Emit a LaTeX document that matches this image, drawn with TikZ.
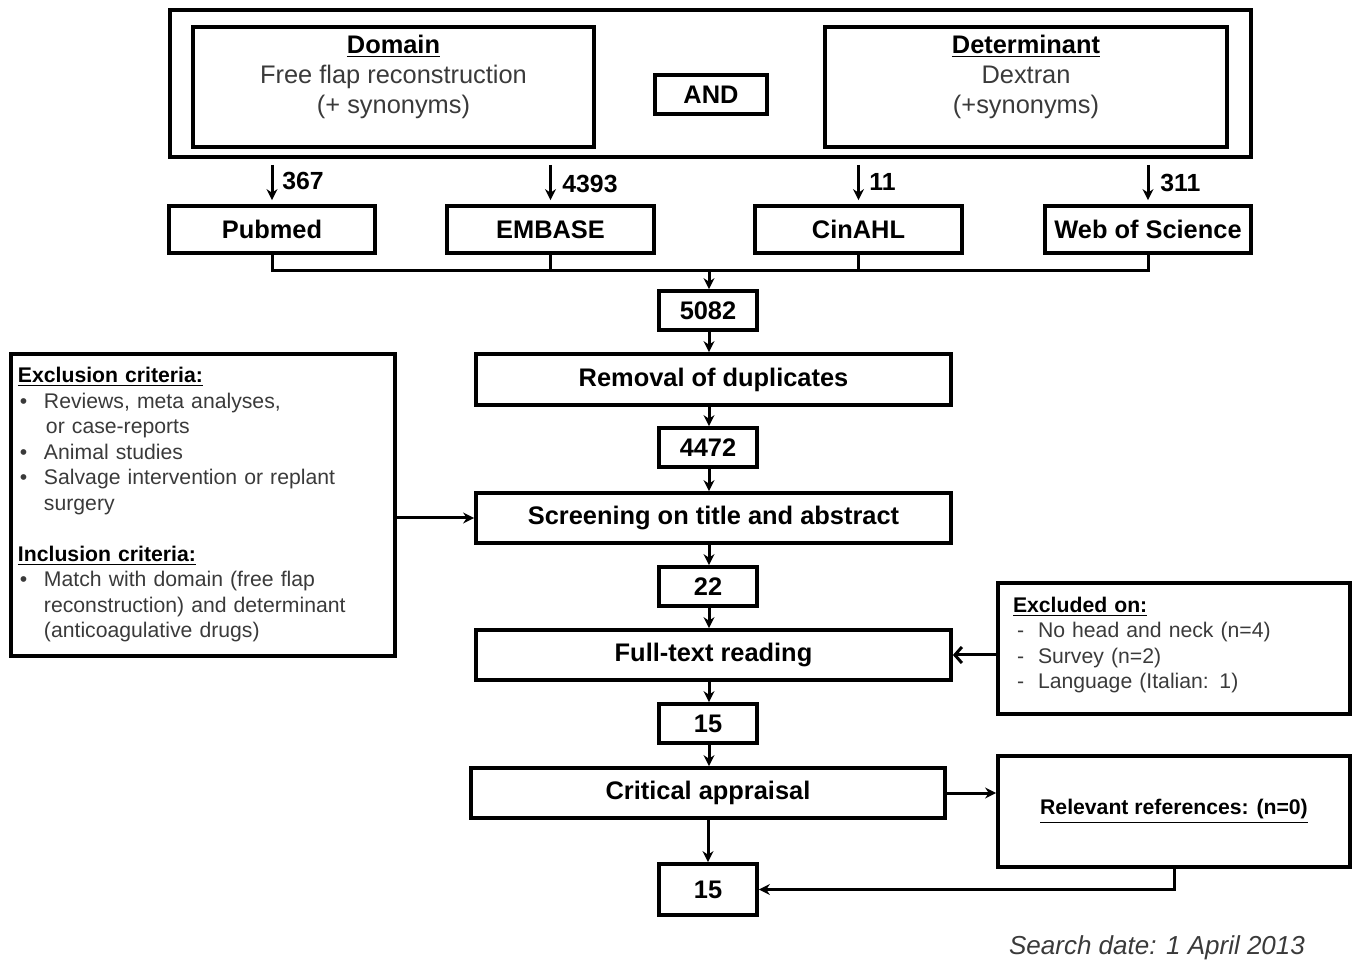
\documentclass[tikz,border=0pt]{standalone}
\usepackage{fontspec}
\setmainfont{Liberation Sans}
\usetikzlibrary{arrows.meta,calc}
\definecolor{txt}{HTML}{3A3A3A}
\tikzset{
 bx/.style={draw, line width=1.9pt, inner sep=0pt, font=\fontsize{12.7}{15}\selectfont\bfseries},
 conn/.style={line width=1.5pt},
 arr/.style={conn,-{Stealth[length=5.5pt,width=5.5pt]}},
 oarr/.style={conn,-{Straight Barb[length=3.5pt,width=8pt]}},
 lbl/.style={font=\fontsize{12.4}{14}\selectfont\bfseries, inner sep=0pt, anchor=west},
 big/.style={font=\fontsize{12.7}{15}\selectfont, inner sep=0pt, align=center, anchor=north},
 small/.style={font=\fontsize{10.6}{12.75}\selectfont},
}
\begin{document}
\begin{tikzpicture}[x=0.5pt,y=-0.5pt]
\useasboundingbox (0,0) rectangle (1355,967);
% top query box
\node[bx, minimum width=540.5pt, minimum height=73.5pt, line width=2.1pt] (top) at (710.5,83.5) {};
\node[bx, minimum width=200.5pt, minimum height=60pt] (dom) at (393.5,87) {};
\node[big] (domt) at (393.5,35) {\textbf{\underline{Domain}}\\ \textcolor{txt}{Free flap reconstruction}\\ \textcolor{txt}{(+ synonyms)}};
\node[bx, minimum width=56pt, minimum height=19.5pt] (and) at (711,94.5) {AND};
\node[bx, minimum width=201pt, minimum height=60pt] (det) at (1026,87) {};
\node[big] (dett) at (1026,35) {\textbf{\underline{Determinant}}\\ \textcolor{txt}{Dextran}\\ \textcolor{txt}{(+synonyms)}};
% databases
\node[bx, minimum width=103pt, minimum height=23.5pt] (pub) at (272,229.5) {Pubmed};
\node[bx, minimum width=103.5pt, minimum height=23.5pt] (emb) at (550.5,229.5) {EMBASE};
\node[bx, minimum width=103.5pt, minimum height=23.5pt] (cin) at (858.5,229.5) {CinAHL};
\node[bx, minimum width=103pt, minimum height=23.5pt] (wos) at (1148,229.5) {Web of Science};
\coordinate (s1) at (272,165);
\coordinate (s2) at (550.5,165);
\coordinate (s3) at (858.5,165);
\coordinate (s4) at (1148,165);
\draw[arr, shorten >=2pt] (s1) -- (pub.north);
\draw[arr, shorten >=2pt] (s2) -- (emb.north);
\draw[arr, shorten >=2pt] (s3) -- (cin.north);
\draw[arr, shorten >=2pt] (s4) -- (wos.north);
\node[lbl] (l1) at (282,181) {367};
\node[lbl] (l2) at (562,184) {4393};
\node[lbl] (l3) at (869,182) {11};
\node[lbl] (l4) at (1160,183) {311};
% main column
\node[bx, minimum width=49pt, minimum height=19.5pt] (n1) at (708,310.5) {5082};
\node[bx, minimum width=237.5pt, minimum height=25.5pt] (rem) at (713.5,379.5) {Removal of duplicates};
\node[bx, minimum width=49pt, minimum height=19.5pt] (n2) at (708,447.5) {4472};
\node[bx, minimum width=237.5pt, minimum height=25pt] (scr) at (713.5,518) {Screening on title and abstract};
\node[bx, minimum width=49pt, minimum height=19.5pt] (n3) at (708,586.5) {22};
\node[bx, minimum width=237.5pt, minimum height=25pt] (ftr) at (713.5,655) {Full-text reading};
\node[bx, minimum width=49pt, minimum height=19.5pt] (n4) at (708,723.5) {15};
\node[bx, minimum width=237pt, minimum height=25pt] (cra) at (708,793) {Critical appraisal};
\node[bx, minimum width=49pt, minimum height=25.5pt] (n5) at (708,889.5) {15};
\coordinate (mrg) at (709,271);
\draw[conn] (pub.south) |- (mrg);
\draw[conn] (emb.south) |- (mrg);
\draw[conn] (cin.south) |- (mrg);
\draw[conn] (wos.south) |- (mrg);
\draw[arr] (mrg) -- (mrg |- n1.north);
\draw[arr] (n1.south -| mrg) -- (mrg |- rem.north);
\draw[arr] (rem.south -| mrg) -- (mrg |- n2.north);
\draw[arr] (n2.south -| mrg) -- (mrg |- scr.north);
\draw[arr] (scr.south -| mrg) -- (mrg |- n3.north);
\draw[arr] (n3.south -| mrg) -- (mrg |- ftr.north);
\draw[arr] (ftr.south -| mrg) -- (mrg |- n4.north);
\draw[arr] (n4.south -| mrg) -- (mrg |- cra.north);
\draw[arr] (cra.south -| n5) -- (n5.north);
% left criteria box
\node[draw, line width=1.9pt, minimum width=192pt, minimum height=151pt, text width=185pt, inner xsep=3.5pt, inner ysep=0pt, align=left, small] (crit) at (203,505) {%
\begin{tabular}{@{}p{13pt}@{}l@{}}
\multicolumn{2}{@{}l}{\textbf{\underline{Exclusion criteria:}}}\\
\hspace{1pt}\textcolor{txt}{•} & \textcolor{txt}{Reviews, meta analyses,}\\
 & \textcolor{txt}{\hspace{1pt}or case-reports}\\
\hspace{1pt}\textcolor{txt}{•} & \textcolor{txt}{Animal studies}\\
\hspace{1pt}\textcolor{txt}{•} & \textcolor{txt}{Salvage intervention or replant}\\
 & \textcolor{txt}{surgery}\\
 & \\
\multicolumn{2}{@{}l}{\textbf{\underline{Inclusion criteria:}}}\\
\hspace{1pt}\textcolor{txt}{•} & \textcolor{txt}{Match with domain (free flap}\\
 & \textcolor{txt}{reconstruction) and determinant}\\
 & \textcolor{txt}{(anticoagulative drugs)}
\end{tabular}};
\draw[arr] (crit.east |- scr.west) -- (scr.west);
% excluded box
\node[draw, line width=1.6pt, minimum width=176pt, minimum height=65.5pt, text width=161pt, inner xsep=7.5pt, inner ysep=0pt, align=left, small] (exc) at (1174,648.5) {%
\begin{tabular}{@{}p{12.5pt}@{}l@{}}
\multicolumn{2}{@{}l}{\textbf{\underline{Excluded on:}}}\\
\hspace{2pt}\textcolor{txt}{-} & \textcolor{txt}{No head and neck (n=4)}\\
\hspace{2pt}\textcolor{txt}{-} & \textcolor{txt}{Survey (n=2)}\\
\hspace{2pt}\textcolor{txt}{-} & \textcolor{txt}{Language (Italian: 1)}\\[3pt]
\end{tabular}};
\draw[oarr] (exc.west |- ftr.east) -- (ftr.east);
% relevant box
\node[draw, line width=1.9pt, minimum width=176pt, minimum height=55.5pt, small] (rel) at (1174,811.5) {\textbf{\underline{Relevant references: (n=0)}}};
\draw[arr] (cra.east) -- (cra.east -| rel.west);
\draw[arr] (rel.south) |- (n5.east);
% date
\node[font=\fontsize{13}{15}\selectfont\itshape, text=txt, inner sep=0pt] (date) at (1157,948) {Search date: 1 April 2013};
\end{tikzpicture}
\end{document}
